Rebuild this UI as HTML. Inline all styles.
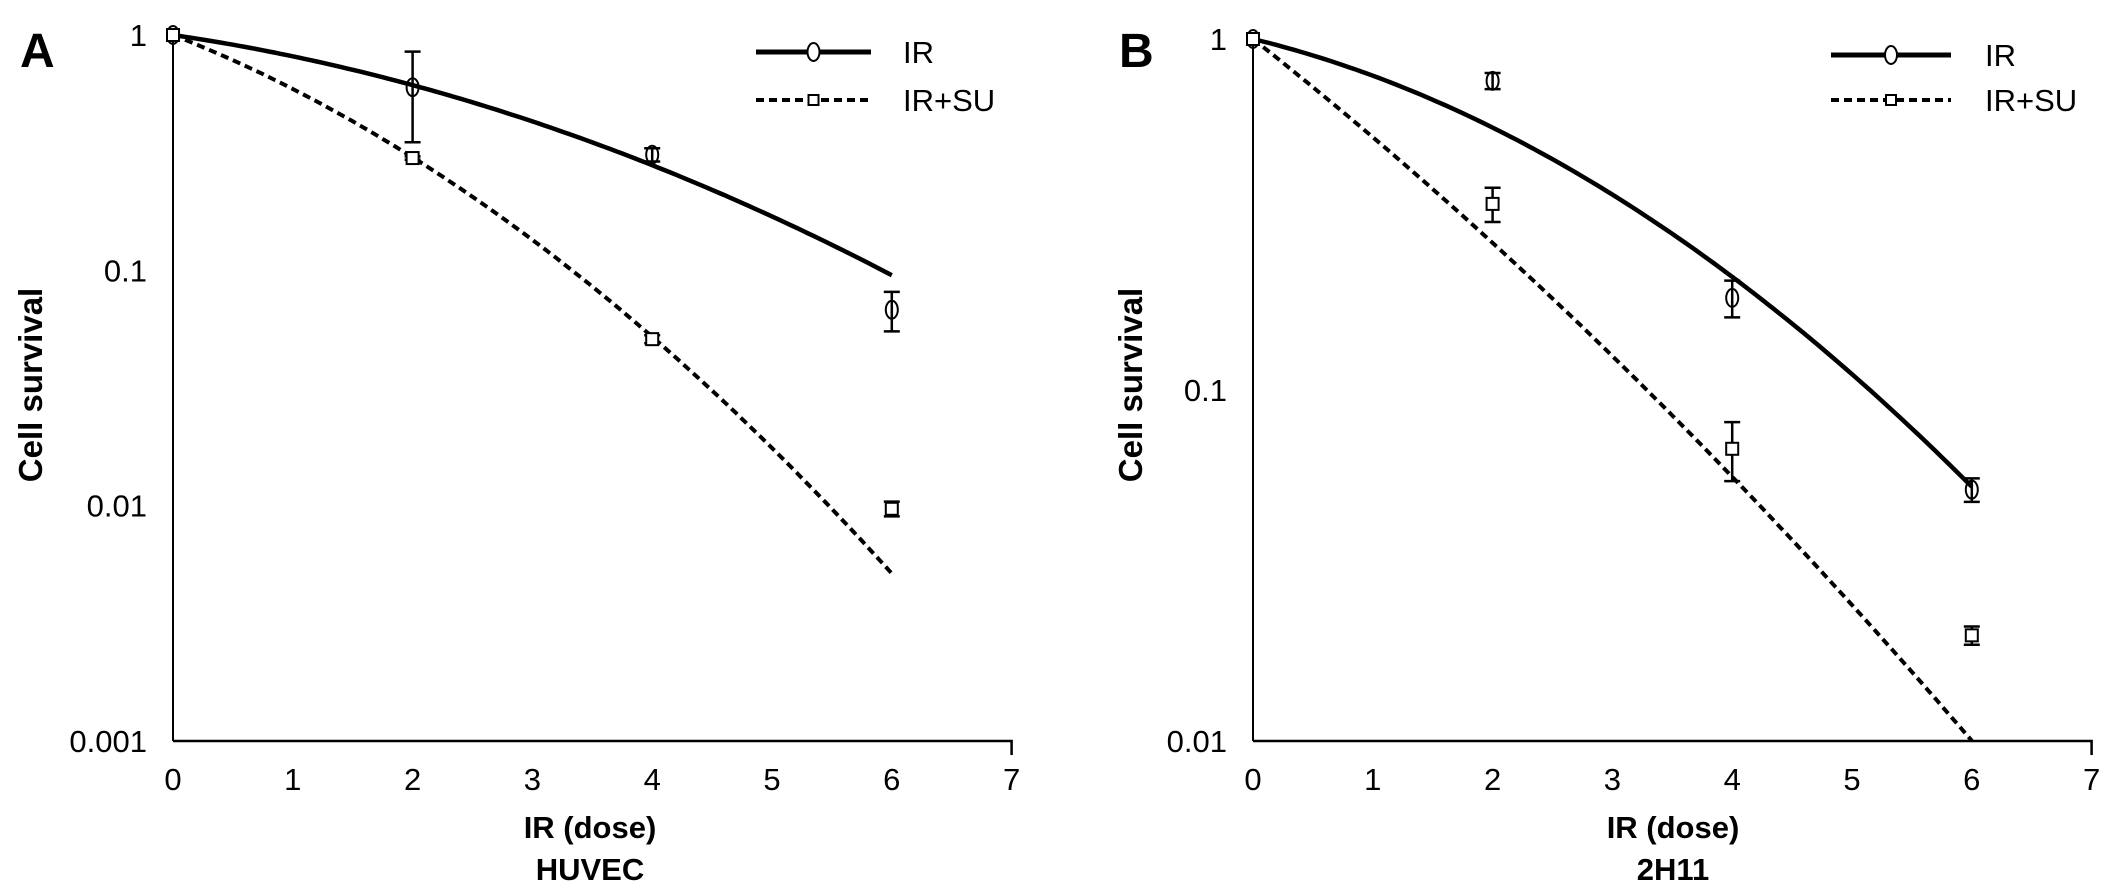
<!DOCTYPE html>
<html><head><meta charset="utf-8"><style>
html,body{margin:0;padding:0;background:#fff}
svg{display:block}
text{font-family:"Liberation Sans",Arial,sans-serif;fill:#000}
</style></head><body>
<svg id="chart" width="2126" height="887" viewBox="0 0 2126 887" xmlns="http://www.w3.org/2000/svg"></svg>
<script>
const doses = [0, 2, 4, 6];
const xTicks = [0, 1, 2, 3, 4, 5, 6, 7];
const aIR = [1, 0.60, 0.31, 0.068];
const aIRerr = [0, 0.25, 0.02, 0.013];
const aSU = [1, 0.30, 0.051, 0.0097];
const aSUerr = [0, 0.005, 0.002, 0.0007];
const aFitAlpha = [0.0747, 0.199];
const aFitBeta = [0.0159, 0.0304];
const aYTicks = [1, 0.1, 0.01, 0.001];
const aYTickLabels = ["1", "0.1", "0.01", "0.001"];
const bIR = [1, 0.76, 0.183, 0.052];
const bIRerr = [0, 0.04, 0.022, 0.004];
const bSU = [1, 0.339, 0.068, 0.020];
const bSUerr = [0, 0.038, 0.013, 0.0012];
const bFitAlpha = [0.083, 0.269];
const bFitBeta = [0.0216, 0.0107];
const bYTicks = [1, 0.1, 0.01];
const bYTickLabels = ["1", "0.1", "0.01"];

const NS = "http://www.w3.org/2000/svg";
const svg = document.getElementById('chart');
function mk(tag, attrs, parent) {
  const e = document.createElementNS(NS, tag);
  for (const k in attrs) e.setAttribute(k, attrs[k]);
  (parent || svg).appendChild(e);
  return e;
}

function panel(cfg) {
  const g = mk('g', {});
  
  
  const x0 = cfg.x0, pxu = 119.8, yb = 741;
  const yMinLog = Math.log10(cfg.yTicks[cfg.yTicks.length - 1]);
  const decades = -yMinLog;
  const yTop = cfg.yTop;
  const X = d => x0 + d * pxu;
  const Y = v => yb - (Math.log10(v) - yMinLog) / decades * (yb - yTop);

  const ya = mk('line', {x1: x0, y1: yTop, x2: x0, y2: yb, stroke: '#000', 'stroke-width': 2}, g);
  
  
  const xa = mk('path', {d: `M${x0} ${yb} H${X(7)} V${yb + 14}`, fill: 'none', stroke: '#000', 'stroke-width': 2.5}, g);
  
  

  xTicks.forEach(t => {
    const tl = mk('text', {x: X(t), y: yb + 49, 'font-size': 31, 'text-anchor': 'middle'}, g);
    tl.textContent = t;
    
    
  });
  cfg.yTicks.forEach((t, i) => {
    const tl = mk('text', {x: cfg.yLabelRight, y: Y(t) + 11, 'font-size': 31, 'text-anchor': 'end'}, g);
    tl.textContent = cfg.yTickLabels[i];
    
    
  });

  const xt = mk('text', {x: cfg.xTitleX, y: 838, 'font-size': 31, 'font-weight': 'bold', 'text-anchor': 'middle'}, g);
  xt.textContent = 'IR (dose)';
  
  
  const st = mk('text', {x: cfg.xTitleX, y: 880, 'font-size': 31, 'font-weight': 'bold', 'text-anchor': 'middle'}, g);
  st.textContent = cfg.cell;
  
  
  const yt = mk('text', {x: 0, y: 0, 'font-size': 33, 'font-weight': 'bold', 'text-anchor': 'middle', transform: `translate(${cfg.yTitleX},${385}) rotate(-90)`}, g);
  yt.textContent = 'Cell survival';
  
  
  const pl = mk('text', {x: cfg.letterX, y: 67, 'font-size': 48, 'font-weight': 'bold'}, g);
  pl.textContent = cfg.letter;
  
  

  const styles = [{w: 4.5, dash: null}, {w: 4, dash: '8 5'}];
  [0, 1].forEach(s => {
    let d = '';
    const minV = cfg.yTicks[cfg.yTicks.length - 1];
    for (let i = 0; i <= 120; i++) {
      const D = 6 * i / 120;
      const v = Math.pow(10, -(cfg.alpha[s] * D + cfg.beta[s] * D * D));
      if (v < minV) break;
      d += (i ? 'L' : 'M') + X(D).toFixed(1) + ' ' + Y(v).toFixed(1);
    }
    const p = mk('path', {d, fill: 'none', stroke: '#000', 'stroke-width': styles[s].w}, g);
    if (styles[s].dash) p.setAttribute('stroke-dasharray', styles[s].dash);
    
    
  });

  [[cfg.ir, cfg.irErr, 'circle'], [cfg.su, cfg.suErr, 'square']].forEach(([vals, errs, shape]) => {
    doses.forEach((D, i) => {
      const cx = X(D), cy = Y(vals[i]);
      if (errs[i] > 0) {
        const y1 = Y(vals[i] + errs[i]), y2 = Y(vals[i] - errs[i]);
        const eb = mk('path', {d: `M${cx} ${y1} V${y2} M${cx - 8} ${y1} H${cx + 8} M${cx - 8} ${y2} H${cx + 8}`, stroke: '#000', 'stroke-width': 2.5, fill: 'none'}, g);
        
        
      }
      let m;
      if (shape === 'circle') m = mk('ellipse', {cx, cy, rx: 6, ry: 9, fill: 'none', stroke: '#000', 'stroke-width': 2}, g);
      else m = mk('rect', {x: cx - 6, y: cy - 6, width: 12, height: 12, fill: '#fff', stroke: '#000', 'stroke-width': 2}, g);
      
      
    });
  });

  const L = cfg.legend;
  const l1 = mk('line', {x1: L.x1, y1: L.y1, x2: L.x2, y2: L.y1, stroke: '#000', 'stroke-width': 5}, g);
  
  
  const lm1 = mk('ellipse', {cx: (L.x1 + L.x2) / 2, cy: L.y1, rx: 6, ry: 9, fill: '#fff', stroke: '#000', 'stroke-width': 2}, g);
  
  
  const lt1 = mk('text', {x: L.tx, y: L.y1 + 11, 'font-size': 31}, g);
  lt1.textContent = 'IR';
  
  
  const l2 = mk('line', {x1: L.x1, y1: L.y2, x2: L.x2, y2: L.y2, stroke: '#000', 'stroke-width': 4, 'stroke-dasharray': '8 5'}, g);
  
  
  const lm2 = mk('rect', {x: (L.x1 + L.x2) / 2 - 5, y: L.y2 - 5, width: 10, height: 10, fill: '#fff', stroke: '#000', 'stroke-width': 2}, g);
  
  
  const lt2 = mk('text', {x: L.tx, y: L.y2 + 11, 'font-size': 31}, g);
  lt2.textContent = 'IR+SU';
  
  
}

panel({name: 'panel-a-huvec', x0: 173, yTop: 35, yTicks: aYTicks, yTickLabels: aYTickLabels,
  yLabelRight: 147, xTitleX: 590, yTitleX: 42, letter: 'A', letterX: 20, cell: 'HUVEC',
  ir: aIR, irErr: aIRerr, su: aSU, suErr: aSUerr, alpha: aFitAlpha, beta: aFitBeta,
  legend: {x1: 756, x2: 871, y1: 52, y2: 100, tx: 903}});
panel({name: 'panel-b-2h11', x0: 1253, yTop: 39, yTicks: bYTicks, yTickLabels: bYTickLabels,
  yLabelRight: 1227, xTitleX: 1673, yTitleX: 1142, letter: 'B', letterX: 1119, cell: '2H11',
  ir: bIR, irErr: bIRerr, su: bSU, suErr: bSUerr, alpha: bFitAlpha, beta: bFitBeta,
  legend: {x1: 1831, x2: 1951, y1: 55, y2: 100, tx: 1985}});
</script>
</body></html>
